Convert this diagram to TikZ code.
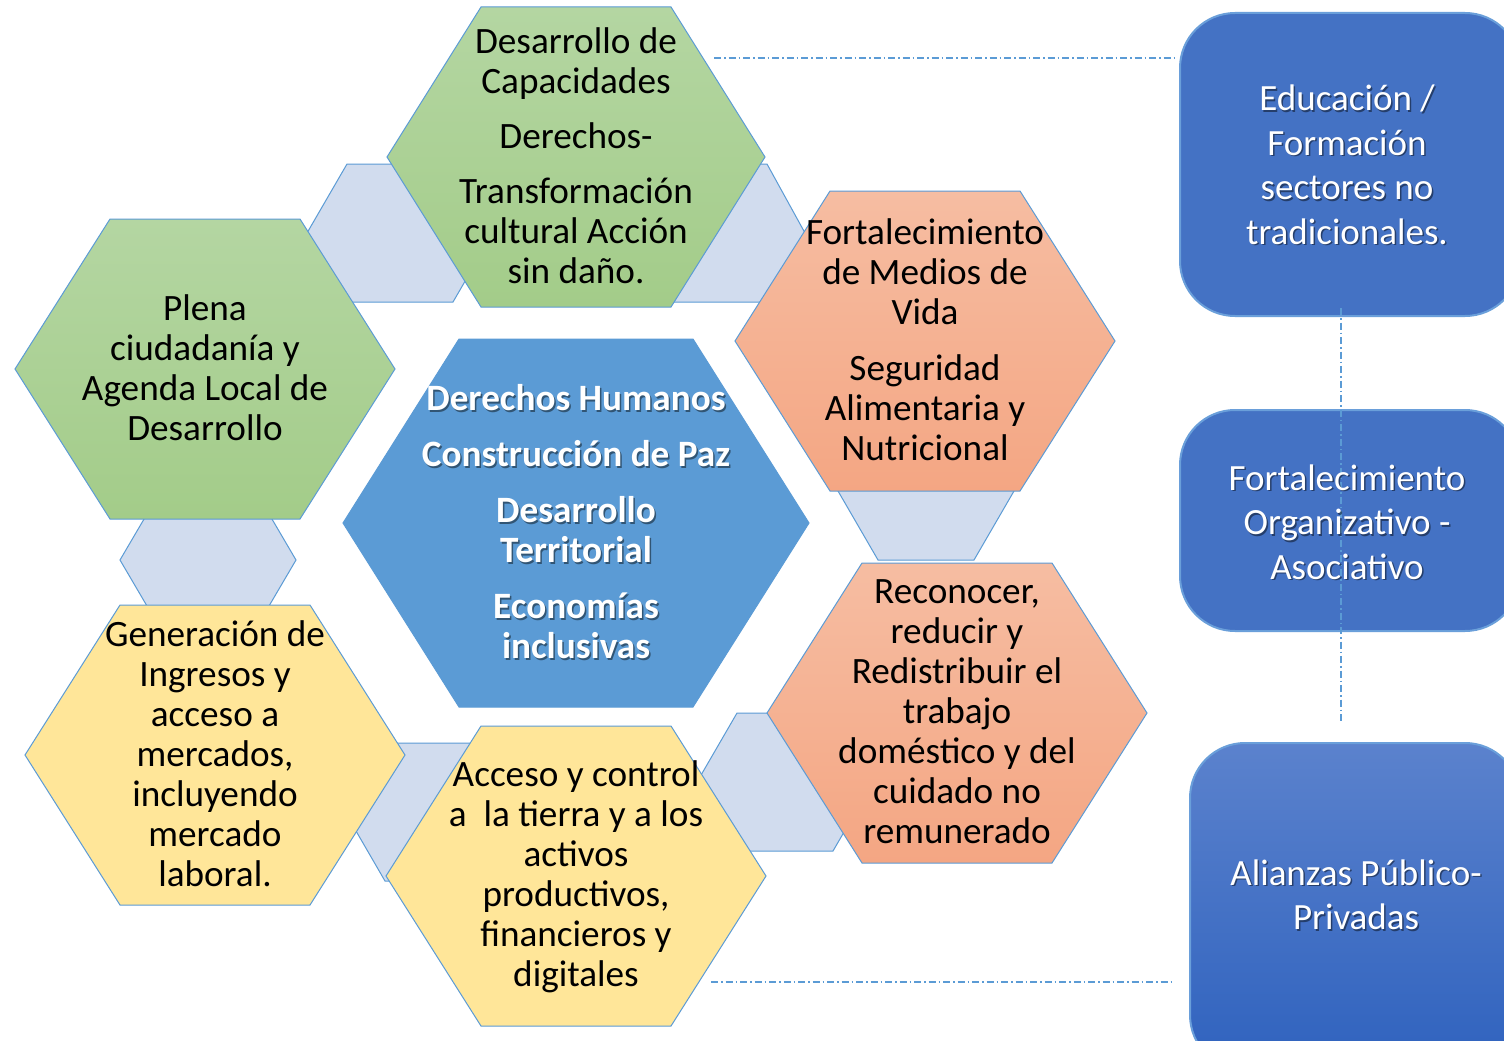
\documentclass[tikz,border=0pt]{standalone}
\usepackage{fontspec}
\setmainfont{Carlito}
\usetikzlibrary{positioning, calc}

\definecolor{hexblue}{HTML}{5B9BD5}
\definecolor{linkfill}{HTML}{D1DCEE}
\definecolor{greentop}{HTML}{B4D6A2}
\definecolor{greenbot}{HTML}{A3CC89}
\definecolor{orangetop}{HTML}{F6BDA2}
\definecolor{orangebot}{HTML}{F4A683}
\definecolor{yellowfill}{HTML}{FFE699}
\definecolor{corefill}{HTML}{5B9BD5}
\definecolor{boxfill}{HTML}{4472C4}
\definecolor{boxline}{HTML}{6A9FDA}
\definecolor{boxtop}{HTML}{5B82CD}
\definecolor{boxbot}{HTML}{2F62BE}

% hexagon: style, centre x, centre y, half width, half edge, half height
\newcommand{\hexshape}[6][]{%
  \draw[#1] ({#2-#4},#3) -- ({#2-#5},{#3-#6}) -- ({#2+#5},{#3-#6})
    -- ({#2+#4},#3) -- ({#2+#5},{#3+#6}) -- ({#2-#5},{#3+#6}) -- cycle;}

\newcommand{\coretext}{Derechos Humanos\\[16pt]Construcción de Paz\\[16pt]Desarrollo\\Territorial\\[16pt]Economías\\inclusivas}
\newcommand{\eductext}{Educación /\\Formación\\sectores no\\tradicionales.}
\newcommand{\orgtext}{Fortalecimiento\\Organizativo -\\Asociativo}
\newcommand{\aliantext}{Alianzas Público-\\Privadas}

\begin{document}
\begin{tikzpicture}[
		x=1pt, y=-1pt,
		hexline/.style={draw=hexblue, line width=1pt},
		linkhex/.style={hexline, fill=linkfill},
		greenhex/.style={hexline, top color=greentop, bottom color=greenbot},
		orangehex/.style={hexline, top color=orangetop, bottom color=orangebot},
		yellowhex/.style={hexline, fill=yellowfill},
		corehex/.style={hexline, fill=corefill},
		hexlabel/.style={align=center, inner sep=0pt, font=\fontsize{37.2}{40}\selectfont},
		corelabel/.style={hexlabel, text=white, font=\fontsize{37.2}{40}\selectfont\bfseries},
		shadowed/.style={xshift=1.5pt, yshift=-1.5pt, text=black, text opacity=0.45},
		bluebox/.style={draw=boxline, line width=2pt, rounded corners=55pt, fill=boxfill},
		boxlabel/.style={align=center, inner sep=0pt, text=white, font=\fontsize{37}{44.5}\selectfont},
		dashlink/.style={draw=hexblue, line width=1.2pt, dash pattern=on 7pt off 3pt on 1.5pt off 3pt}
		]
		\useasboundingbox (0,0) rectangle (1504,1041);
		\fill[white] (0,0) rectangle (1504,1041);
		\clip (0,0) rectangle (1504,1041);
		
		% Small links behind the big hexagons
		\hexshape[linkhex]{400}{233}{93}{53}{69}
		\hexshape[linkhex]{717}{233}{88}{50}{69}
		\hexshape[linkhex]{208}{560}{88}{61}{46}
		\hexshape[linkhex]{926}{491}{88}{48}{69}
		\hexshape[linkhex]{433}{812}{88}{48}{69}
		\hexshape[linkhex]{785}{782}{88}{48}{69}
		
		% Big hexagons
		\hexshape[greenhex]{576}{157}{189}{95}{150}
		\hexshape[greenhex]{205}{369}{190}{95}{150}
		\hexshape[corehex]{576}{523}{233}{117}{184}
		\hexshape[orangehex]{925}{341}{190}{95}{150}
		\hexshape[orangehex]{957}{713}{190}{95}{150}
		\hexshape[yellowhex]{215}{755}{190}{95}{150}
		\hexshape[yellowhex]{576}{876}{190}{95}{150}
		
		% Hexagon texts
		\node[hexlabel] (cap) at (576,156) {Desarrollo de\\Capacidades\\[15pt]Derechos-\\[15pt]Transformación\\cultural Acción\\sin daño.};
		\node[hexlabel] (plena) at (205,368) {Plena\\ciudadanía y\\Agenda Local de\\Desarrollo};
		\node[corelabel, shadowed] at (576,522) {\coretext};
		\node[corelabel] (core) at (576,522) {\coretext};
		\node[hexlabel] (medios) at (925,340) {Fortalecimiento\\de Medios de\\Vida\\[16pt]Seguridad\\Alimentaria y\\Nutricional};
		\node[hexlabel] (cuidado) at (957,712) {Reconocer,\\reducir y\\Redistribuir el\\trabajo\\doméstico y del\\cuidado no\\remunerado};
		\node[hexlabel] (ingresos) at (215,754) {Generación de\\Ingresos y\\acceso a\\mercados,\\incluyendo\\mercado\\laboral.};
		\node[hexlabel] (acceso) at (576,877) {Acceso y control\\a~ la tierra y a los\\activos\\productivos,\\financieros y\\digitales};
		
		% Boxes on the right
		\node[bluebox, minimum width=340pt, minimum height=303pt] (educ) at (1350,164.5) {};
		\node[bluebox, minimum width=340pt, minimum height=221pt] (org) at (1350,520.5) {};
		\node[bluebox, top color=boxtop, bottom color=boxbot, minimum width=330pt, minimum height=327pt] (alianza) at (1355,906.5) {};
		
		% Dash-dot links
		\coordinate (capend) at (714,58);
		\coordinate (accend) at (711,982);
		\coordinate (vtop) at (1341,308);
		\coordinate (vbot) at (1341,722);
		\draw[dashlink, shorten >=5pt] (capend) -- (capend -| educ.west);
		\draw[dashlink, shorten >=18pt] (accend) -- (accend -| alianza.west);
		\draw[dashlink] (vtop) -- (vbot);
		
		% Box texts
		\node[boxlabel, shadowed] at (1347,165) {\eductext};
		\node[boxlabel] (eductxt) at (1347,165) {\eductext};
		\node[boxlabel, shadowed] at (1347,522) {\orgtext};
		\node[boxlabel] (orgtxt) at (1347,522) {\orgtext};
		\node[boxlabel, shadowed] at (1356,895) {\aliantext};
		\node[boxlabel] (aliantxt) at (1356,895) {\aliantext};
		
	\end{tikzpicture}
\end{document}
